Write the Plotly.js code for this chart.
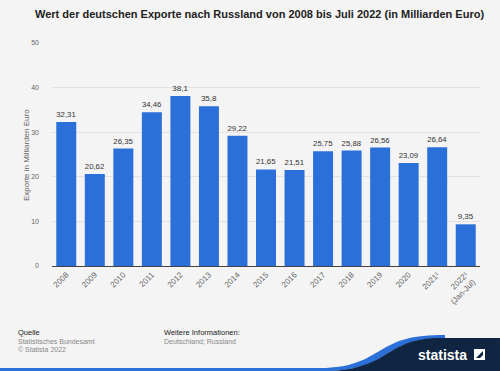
<!DOCTYPE html>
<html><head><meta charset="utf-8">
<script src="https://cdn.plot.ly/plotly-3.0.1.min.js"></script>
<style>html,body{margin:0;padding:0;background:#f4f4f4}#c{width:500px;height:371px}</style>
</head><body><div id="c"></div>
<script>
const categories = ['2008','2009','2010','2011','2012','2013','2014','2015','2016','2017','2018','2019','2020','2021¹','2022¹<br>(Jan-Jul)'];
const values = [32.31,20.62,26.35,34.46,38.1,35.8,29.22,21.65,21.51,25.75,25.88,26.56,23.09,26.64,9.35];
const labels = ['32,31','20,62','26,35','34,46','38,1','35,8','29,22','21,65','21,51','25,75','25,88','26,56','23,09','26,64','9,35'];
const yTitle = 'Exporte in Milliarden Euro';

const L=52,R=480,T=43,B=266;
const px=x=>(x-L)/(R-L), py=y=>(B-y)/(B-T);
const font='Arial, "Liberation Sans", sans-serif';

const trace={type:'bar',x:categories,y:values,text:labels,textposition:'outside',
  textfont:{family:font,size:8,color:'#333'},cliponaxis:false,
  marker:{color:'#2b6fd8'},hoverinfo:'none'};

function P(x,y){return px(x).toFixed(4)+','+py(y).toFixed(4);}
const navy='M'+P(500,338)+' L'+P(440,338)+' C'+P(412,338)+' '+P(400,346)+' '+P(385,355)+' C'+P(370,365)+' '+P(350,371)+' '+P(325,371)+' L'+P(500,371)+' Z';
const blueWave='M'+P(0,371)+' L'+P(0,368)+' L'+P(320,368)+' C'+P(352,368)+' '+P(366,359)+' '+P(381,350)+' C'+P(398,340)+' '+P(412,335)+' '+P(445,335)+' L'+P(445,338)+' C'+P(414,338)+' '+P(402,345)+' '+P(387,354)+' C'+P(372,365)+' '+P(352,371)+' '+P(325,371)+' Z';

const layout={width:500,height:371,margin:{l:L,r:500-R,t:T,b:371-B},
  paper_bgcolor:'#f4f4f4',plot_bgcolor:'#f4f4f4',showlegend:false,bargap:0.3,
  font:{family:font},
  title:{text:'<b>Wert der deutschen Exporte nach Russland von 2008 bis Juli 2022 (in Milliarden Euro)</b>',
    font:{family:font,size:11,color:'#222'},x:35/500,xanchor:'left',y:1-14/371,yanchor:'middle'},
  xaxis:{type:'category',tickangle:-45,tickfont:{size:8,color:'#666'},showgrid:false,
    showline:true,linecolor:'#444',linewidth:1,ticks:'',fixedrange:true},
  yaxis:{range:[0,50],dtick:10,tickfont:{size:7,color:'#666'},gridcolor:'#e2e2e2',
    zeroline:false,ticks:'',ticklabelstandoff:12},
  shapes:[
    {type:'path',xref:'paper',yref:'paper',path:blueWave,fillcolor:'#2b6fd8',line:{width:0},layer:'above'},
    {type:'path',xref:'paper',yref:'paper',path:navy,fillcolor:'#0f2541',line:{width:0},layer:'above'},
    {type:'rect',xref:'paper',yref:'paper',x0:px(474),x1:px(485),y0:py(360),y1:py(349),fillcolor:'#fff',line:{width:0}},
    {type:'path',xref:'paper',yref:'paper',path:'M'+P(476,358)+' L'+P(483,351)+' L'+P(483,355)+' L'+P(480,358)+' Z',fillcolor:'#0f2541',line:{width:0}}
  ],
  annotations:[
    {xref:'paper',yref:'paper',x:px(26),y:py(155),xanchor:'center',yanchor:'middle',textangle:-90,showarrow:false,text:yTitle,font:{size:8,color:'#666'}},
    {xref:'paper',yref:'paper',x:px(16),y:py(332),xanchor:'left',yanchor:'middle',showarrow:false,text:'Quelle',font:{size:7.5,color:'#222'}},
    {xref:'paper',yref:'paper',x:px(16),y:py(341),xanchor:'left',yanchor:'middle',showarrow:false,text:'Statistisches Bundesamt',font:{size:7,color:'#888'}},
    {xref:'paper',yref:'paper',x:px(16),y:py(349),xanchor:'left',yanchor:'middle',showarrow:false,text:'© Statista 2022',font:{size:7,color:'#888'}},
    {xref:'paper',yref:'paper',x:px(162),y:py(332),xanchor:'left',yanchor:'middle',showarrow:false,text:'Weitere Informationen:',font:{size:7.5,color:'#222'}},
    {xref:'paper',yref:'paper',x:px(162),y:py(341),xanchor:'left',yanchor:'middle',showarrow:false,text:'Deutschland; Russland',font:{size:7,color:'#888'}},
    {xref:'paper',yref:'paper',x:px(469),y:py(355),xanchor:'right',yanchor:'middle',showarrow:false,text:'<b>statista</b>',font:{size:14,color:'#fff'}}
  ]};
Plotly.newPlot('c',[trace],layout,{displayModeBar:false,staticPlot:true});
</script></body></html>
